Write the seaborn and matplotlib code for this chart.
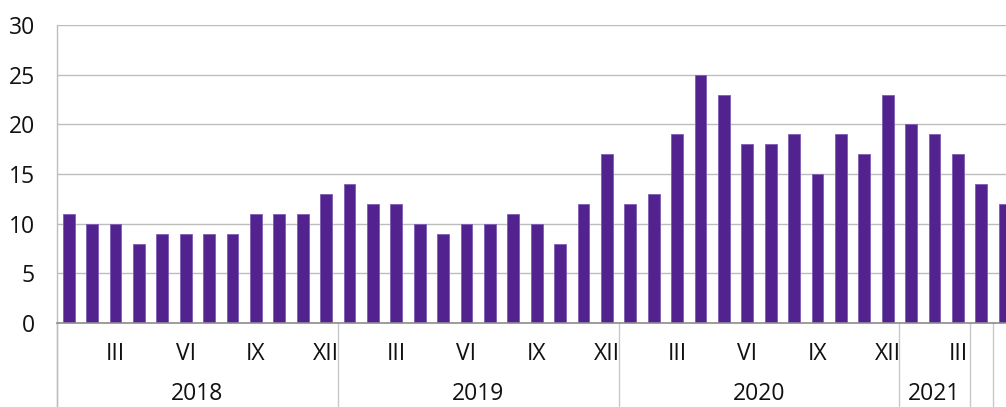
import matplotlib
matplotlib.use("Agg")
import matplotlib.pyplot as plt
import matplotlib.transforms as mtransforms
import seaborn as sns
import numpy as np
import pandas as pd

values_2018 = [11, 10, 10, 8, 9, 9, 9, 9, 11, 11, 11, 13]
values_2019 = [14, 12, 12, 10, 9, 10, 10, 11, 10, 8, 12, 17]
values_2020 = [12, 13, 19, 25, 23, 18, 18, 19, 15, 19, 17, 23]
values_2021 = [20, 19, 17]
values_after = [14, 12]

month_labels = ["III", "VI", "IX", "XII"]
year_labels = ["2018", "2019", "2020", "2021"]
group_sizes = [12, 12, 12, 3, 1, 1]

values = values_2018 + values_2019 + values_2020 + values_2021 + values_after
df = pd.DataFrame({"idx": np.arange(len(values)), "value": values})

sns.set_theme(style="white")
plt.rcParams["font.family"] = ["Open Sans", "DejaVu Sans"]

W, H = 1006, 407
fig = plt.figure(figsize=(W / 100, H / 100), dpi=100)
left, right, top, bottom = 57, 1006, 25, 323
ax = fig.add_axes([left / W, 1 - bottom / H, (right - left) / W, (bottom - top) / H])

color = "#52238F"
sns.barplot(data=df, x="idx", y="value", color=color, width=0.5,
            saturation=1, ax=ax, zorder=3, edgecolor="#7E5DB5", linewidth=0.6)

slot = 23.4
xmax = (right - left) / slot - 0.5
ax.set_xlim(-0.5, xmax)
ax.set_ylim(0, 30)
ax.set_yticks(range(0, 31, 5))
ax.yaxis.grid(True, color="#BDBDBD", linewidth=1.0, zorder=0)
FS = 16.5
ax.tick_params(axis="y", length=0, labelsize=FS, pad=16, labelcolor="#111111")
for s in ["top", "right"]:
    ax.spines[s].set_visible(False)
ax.spines["bottom"].set_color("#8C8C8C")
ax.spines["bottom"].set_linewidth(1.2)
ax.spines["bottom"].set_zorder(4)
ax.spines["left"].set_color("#BDBDBD")
ax.spines["left"].set_linewidth(1.0)
ax.set_xlabel("")
ax.set_ylabel("")

# Month tick labels
tick_pos, tick_lab = [], []
start = 0
for gi, n in enumerate(group_sizes[:4]):
    for m, lab in zip([2, 5, 8, 11], month_labels):
        if m < n:
            tick_pos.append(start + m)
            tick_lab.append(lab)
    start += n
ax.set_xticks(tick_pos)
ax.set_xticklabels(tick_lab)
ax.tick_params(axis="x", length=0, labelsize=FS, pad=14, labelcolor="#111111")

# Group dividers and year labels
trans = mtransforms.blended_transform_factory(ax.transData, ax.transAxes)
depth = -(H - bottom) / (bottom - top) - 0.05
bounds = [-0.5]
for n in group_sizes:
    bounds.append(bounds[-1] + n)
for b in bounds[:-1]:
    ax.plot([b, b], [0, depth], transform=trans, color="#C8C8C8",
            linewidth=1.0, clip_on=False, zorder=1)
ax.plot([-0.5, -0.5], [0, depth], transform=trans, color="#BDBDBD",
        linewidth=1.0, clip_on=False, zorder=1)
for i, lab in enumerate(year_labels):
    cx = (bounds[i] + bounds[i + 1]) / 2
    ax.text(cx, -(400 - bottom) / (bottom - top), lab, transform=trans,
            ha="center", va="baseline", fontsize=FS, color="#111111")

fig.savefig("out.png", dpi=100)
